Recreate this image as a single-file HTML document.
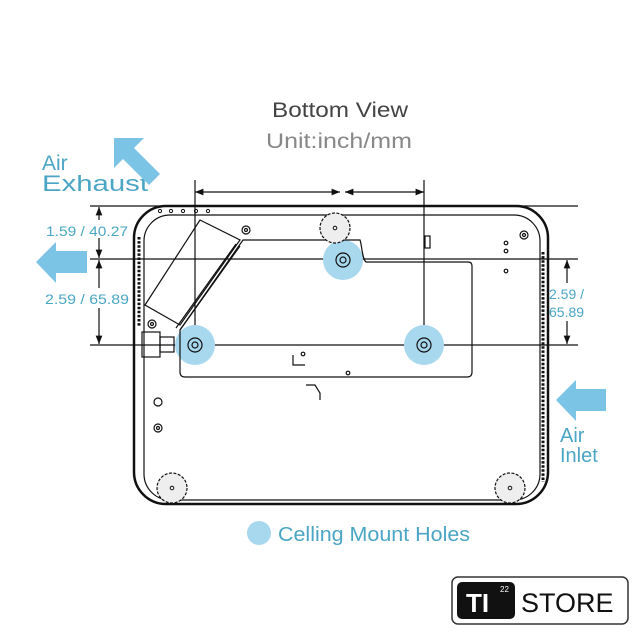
<!DOCTYPE html>
<html><head><style>
html,body{margin:0;padding:0;background:#fff;width:640px;height:640px;overflow:hidden}
text{font-family:"Liberation Sans",sans-serif}
</style></head><body>
<svg width="640" height="640" viewBox="0 0 640 640" xmlns="http://www.w3.org/2000/svg">
<defs>
<marker id="a" viewBox="0 0 10 10" refX="10" refY="5" markerWidth="7" markerHeight="7" orient="auto-start-reverse"><path d="M0,1 L10,5 L0,9 z" fill="#111"/></marker>
</defs>
<text x="272" y="117" font-size="21" fill="#444" textLength="136" lengthAdjust="spacingAndGlyphs">Bottom View</text>
<text x="266" y="148" font-size="21" fill="#888" textLength="146" lengthAdjust="spacingAndGlyphs">Unit:inch/mm</text>
<text x="42" y="170" font-size="21" fill="#4aa6c4">Air</text>
<text x="42" y="191" font-size="22" fill="#4aa6c4" textLength="106" lengthAdjust="spacingAndGlyphs">Exhaust</text>
<path d="M114,138 L144,138 L134,148 L160,174 L149,185 L123,159 L114,168 Z" fill="#7cc4e6"/>
<path d="M36,262 L56,242 L56,251 L87,251 L87,273 L56,273 L56,283 Z" fill="#7cc4e6"/>
<path d="M556,400 L576,380 L576,389 L606,389 L606,411 L576,411 L576,421 Z" fill="#7cc4e6"/>
<text x="560" y="442" font-size="20" fill="#4aa6c4">Air</text>
<text x="560" y="462" font-size="20" fill="#4aa6c4">Inlet</text>
<g stroke="#111" fill="none" stroke-width="1.2">
<line x1="90" y1="206" x2="578" y2="206"/>
<line x1="90" y1="259" x2="578" y2="259"/>
<line x1="90" y1="345" x2="578" y2="345"/>
<line x1="195" y1="180" x2="195" y2="345"/>
<line x1="424" y1="180" x2="424" y2="345"/>
<line x1="195" y1="192" x2="340" y2="192" marker-start="url(#a)" marker-end="url(#a)"/>
<line x1="345" y1="192" x2="424" y2="192" marker-start="url(#a)" marker-end="url(#a)"/>
<line x1="99" y1="207" x2="99" y2="258" marker-start="url(#a)" marker-end="url(#a)"/>
<line x1="99" y1="260" x2="99" y2="344" marker-start="url(#a)" marker-end="url(#a)"/>
<line x1="567" y1="260" x2="567" y2="344" marker-start="url(#a)" marker-end="url(#a)"/>
</g>
<rect x="44" y="220" width="86" height="18" fill="#fff"/>
<rect x="44" y="288" width="86" height="20" fill="#fff"/>
<rect x="548" y="283" width="40" height="38" fill="#fff"/>
<text x="46" y="236" font-size="14" fill="#4aa6c4" textLength="82" lengthAdjust="spacingAndGlyphs">1.59 / 40.27</text>
<text x="45" y="304" font-size="14" fill="#4aa6c4" textLength="84" lengthAdjust="spacingAndGlyphs">2.59 / 65.89</text>
<text x="549" y="299" font-size="14" fill="#4aa6c4">2.59 /</text>
<text x="549" y="317" font-size="14" fill="#4aa6c4">65.89</text>
<rect x="134" y="206" width="414" height="298" rx="32" fill="none" stroke="#111" stroke-width="2.5"/>
<rect x="144" y="215" width="396" height="285" rx="26" fill="none" stroke="#111" stroke-width="1.2"/>
<circle cx="343" cy="260" r="20" fill="#a8d8ee"/>
<circle cx="195" cy="345" r="20" fill="#a8d8ee"/>
<circle cx="424" cy="345" r="20" fill="#a8d8ee"/>
<g stroke="#111" fill="none" stroke-width="1.2">
<path d="M360,240 C362,245 362,259 366,262 L468,262 Q472,262 472,266 L472,372 Q472,377 467,377 L185,377 Q180,377 180,372 L180,330 L243,240 Z"/>
<path d="M145,305 L200,220 L240,240 L180,325 Z"/>
<path d="M176,328 L236,244 M180,330 L240,246"/>
<circle cx="343" cy="260" r="7"/><circle cx="343" cy="260" r="3"/>
<circle cx="195" cy="345" r="7"/><circle cx="195" cy="345" r="3"/>
<circle cx="424" cy="345" r="7"/><circle cx="424" cy="345" r="3"/>
<circle cx="246" cy="230" r="4"/><circle cx="246" cy="230" r="1.5"/>
<circle cx="152" cy="324" r="4"/><circle cx="152" cy="324" r="1.5"/>
<circle cx="524" cy="235" r="4"/><circle cx="524" cy="235" r="1.5"/>
<circle cx="158" cy="402" r="4"/>
<circle cx="158" cy="428" r="4"/><circle cx="158" cy="428" r="1.5"/>
<rect x="142" y="332" width="18" height="25"/><rect x="160" y="337" width="14" height="15"/>
<path d="M293,355 L293,365 L305,365 M306,385 L315,385 L320,393 L320,400"/>
<circle cx="303" cy="354" r="1.8"/><circle cx="348" cy="373" r="1.8"/>
<circle cx="506" cy="243" r="1.8"/><circle cx="506" cy="251" r="1.8"/><circle cx="506" cy="271" r="1.8"/>
<rect x="425" y="236" width="5" height="12"/>
</g>
<g fill="#eee" stroke="#111" stroke-width="1.2">
<circle cx="335" cy="228" r="15" stroke-dasharray="3 1.5"/>
<circle cx="172" cy="488" r="15" stroke-dasharray="3 1.5"/>
<circle cx="510" cy="488" r="15" stroke-dasharray="3 1.5"/>
</g>
<g fill="none" stroke="#111" stroke-width="1">
<circle cx="335" cy="228" r="1.8"/><circle cx="172" cy="488" r="1.8"/><circle cx="510" cy="488" r="1.8"/>
<circle cx="160" cy="211" r="1.6"/><circle cx="171" cy="211" r="1.6"/><circle cx="183" cy="211" r="1.6"/><circle cx="196" cy="211" r="1.6"/><circle cx="208" cy="211" r="1.6"/>
</g>
<g fill="none" stroke="#111" stroke-width="0.9">
<path d="M139,237 v90" stroke-dasharray="2.5 1.6" stroke-width="3"/>
<path d="M543,252 v230" stroke-dasharray="2.5 1.6" stroke-width="3"/>
</g>
<circle cx="259" cy="533" r="12" fill="#a8d8ee"/>
<text x="278" y="541" font-size="20" fill="#4aa6c4" textLength="192" lengthAdjust="spacingAndGlyphs">Celling Mount Holes</text>
<rect x="452" y="577" width="176" height="47" rx="6" fill="#fff" stroke="#333" stroke-width="1.5"/>
<rect x="457" y="582" width="58" height="37" rx="5" fill="#111"/>
<text x="466" y="612" font-size="26" font-weight="bold" fill="#fff">TI</text>
<text x="500" y="592" font-size="8" fill="#fff">22</text>
<text x="521" y="612" font-size="27" fill="#111">STORE</text>
</svg>
</body></html>
